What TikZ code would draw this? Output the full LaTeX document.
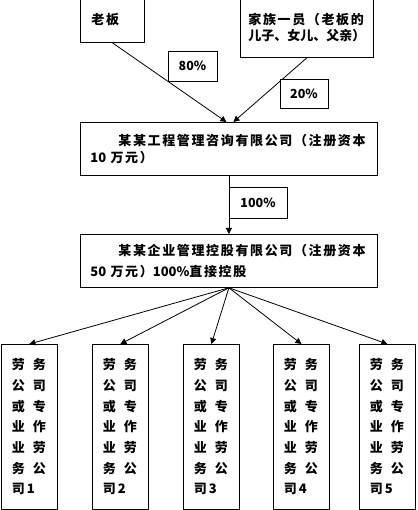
\documentclass[tikz,border=0pt]{standalone}
\usepackage{fontspec}
\setmainfont{Noto Sans CJK SC}
\newfontfamily\cjk[LetterSpace=12.6]{Noto Sans CJK SC}
\newfontfamily\cjknarrow{Noto Sans CJK SC}
\newfontfamily\cjkwide[LetterSpace=62]{Noto Sans CJK SC}
\usetikzlibrary{arrows.meta, positioning}

\begin{document}
\begin{tikzpicture}[x=1pt, y=-1pt, line width=0.8pt,
  box/.style={draw, rectangle, inner sep=0pt, anchor=north west, align=left,
    font=\cjk\bfseries\fontsize{13}{17}\selectfont},
  worker/.style={box, minimum width=56pt, minimum height=165pt, text width=35pt,
    font=\cjkwide\bfseries\fontsize{13}{20.7}\selectfont},
  pct/.style={draw, rectangle, fill=white, inner sep=0pt, minimum width=49pt,
    minimum height=30pt, font=\bfseries\fontsize{12.5}{14}\selectfont},
  tip/.style={-{Triangle[length=6pt, width=6pt]}}]
  % Frame
  \fill[white] (0,0) rectangle (417,510);
  \useasboundingbox (0,0) rectangle (417,510);
  % Owners
  \node[box, minimum width=64pt, minimum height=45pt, text width=42pt] (boss) at (80,-3) {老板};
  \node[box, minimum width=133pt, minimum height=60pt, text width=117pt,
    font=\cjk\bfseries\fontsize{13}{16.3}\selectfont] (family) at (240,-3)
    {家族一员（老板的\\\cjknarrow 儿子、女儿、父亲）};
  % Companies
  \node[box, minimum width=297pt, minimum height=53pt, text width=277pt] (comp1) at (80,122)
    {\hspace*{28pt}某某工程管理咨询有限公司（注册资本\\{\cjknarrow 10 }万元）};
  \node[box, minimum width=297pt, minimum height=53pt, text width=277pt,
    font=\cjk\bfseries\fontsize{13}{21.7}\selectfont] (comp2) at (80,234)
    {\hspace*{28pt}某某企业管理控股有限公司（注册资本\\{\cjknarrow 50 }万元）{\cjknarrow 100\%}直接控股};
  % Labour companies
  \foreach \x/\n in {1/1, 92/2, 183/3, 273/4, 359/5} {
    \node[worker] (w\n) at (\x,344) {劳务\\公司\\或专\\业作\\业劳\\务公\\司\kern2pt{\cjknarrow\n}};
  }
  % Arrows
  \draw[tip] (boss.south) -- ([xshift=-2.5pt]comp1.north);
  \draw[tip] (family.south) -- ([xshift=4.5pt]comp1.north);
  \draw[tip] (comp1.south) -- (comp2.north);
  \foreach \n in {1,...,5} {
    \draw[tip] (comp2.south) -- (w\n.north);
  }
  % Shares
  \node[pct] (p80) at (192.5,66) {80\%};
  \node[pct, minimum width=48pt, minimum height=29pt] (p20) at (304,93.5) {20\%};
  \node[pct, minimum width=58pt, minimum height=31pt] (p100) at (258,202.5) {100\%};
\end{tikzpicture}
\end{document}
